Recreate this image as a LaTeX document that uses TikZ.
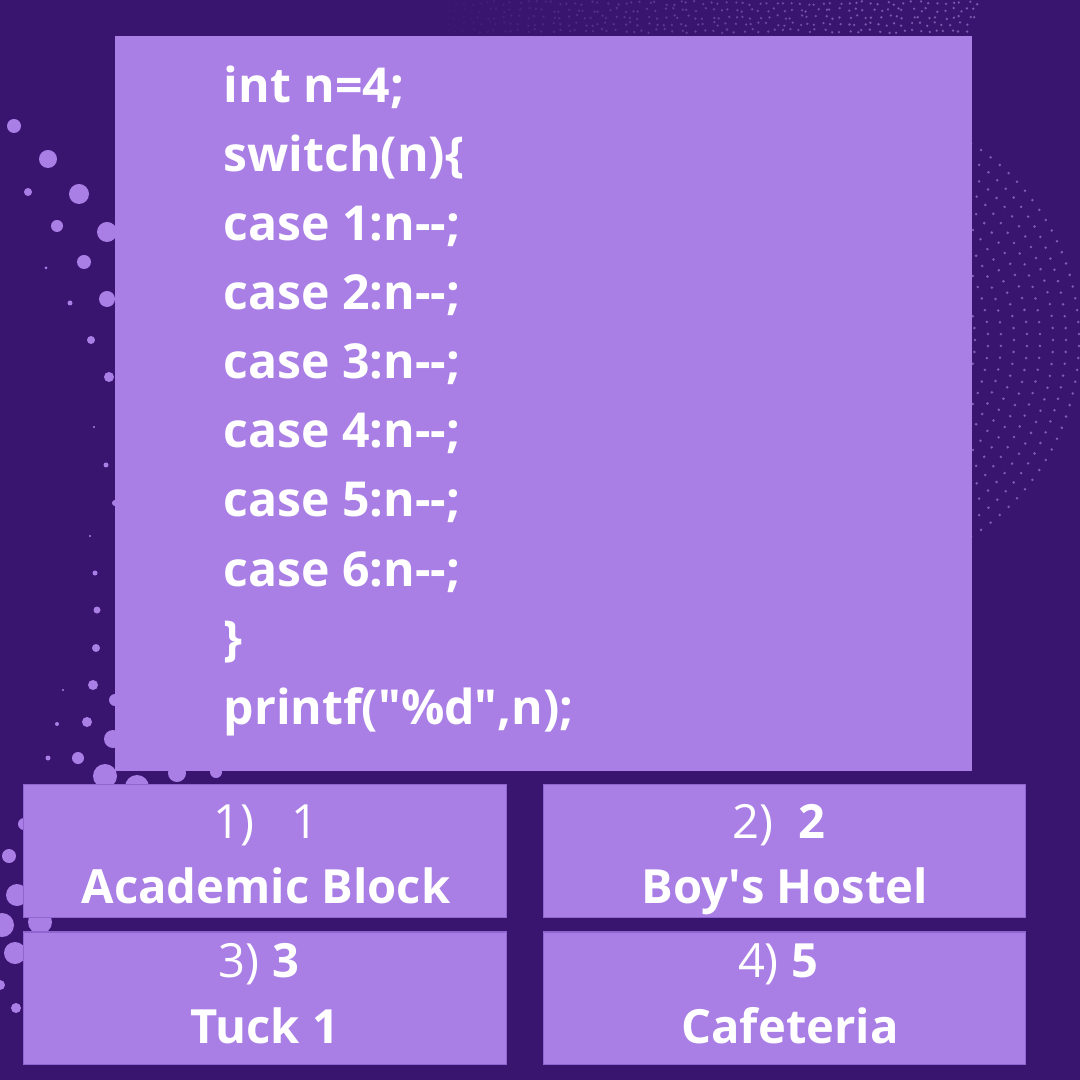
\documentclass[tikz,border=0pt]{standalone}
\usepackage{fontspec}
\setmainfont{Open Sans}
\usetikzlibrary{calc}

\definecolor{bgpurple}{HTML}{3A1570}
\definecolor{boxpurple}{HTML}{A97FE6}
\definecolor{boxedge}{HTML}{8F66D0}
\definecolor{dotpurple}{HTML}{7C5DB0}

\tikzset{
  bubble/.style={fill=boxpurple},
  globedot/.style={fill=dotpurple},
  codeline/.style={anchor=base west, inner sep=0pt, text=white,
    font=\fontsize{13.7}{16}\selectfont\bfseries},
  ansbox/.style={fill=boxpurple, draw=boxedge, line width=0.3pt, inner sep=0pt,
    minimum width=4.82cm, minimum height=1.32cm},
  anstext/.style={anchor=base, inner sep=0pt, text=white,
    font=\fontsize{13.4}{16}\selectfont}
}

\begin{document}
\begin{tikzpicture}[x=0.01cm,y=-0.01cm]
  \useasboundingbox (0,0) rectangle (1080,1080);
  \fill[bgpurple] (0,0) rectangle (1080,1080);
  % dotted globe on the right
  \foreach \r in {129,142,...,234} {
    \pgfmathtruncatemacro\N{round(3.1416*\r/12)}
    \foreach \k in {0,...,\N} {
      \pgfmathsetmacro\ang{-90+180*\k/\N}
      \fill[globedot, shift={(846,340)}] (\ang:\r) circle[radius=0.014cm];
    }
  }
  % dotted strip at the top
  \pgfmathsetseed{7}
  \foreach \i in {0,...,70} \foreach \j in {0,...,4} {
    \pgfmathsetmacro\px{440+8*\i+3*rand}
    \pgfmathsetmacro\py{3+7*\j+2*rand}
    \pgfmathsetmacro\op{(((\px-700)/100)^2+((\py+86)/100)^2<8.88) ? max(0,min(0.95,(\px-420)/480)) : 0}
    \fill[globedot, opacity=\op] (\px,\py) circle[radius=0.013cm];
  }
  % bubbles on the left
  \foreach \bx/\by/\br in {14/126/7,48/159/9,28/192/4,79/194/10,57/226/6,107/232/10,
      84/262/7,46/268/1.5,107/299/8,70/303/2.5,91/340/4,109/377/5,94/427/1.2,
      106/465/2.5,115/503/3,90/536/1.2,95/573/2.5,97/610/3.5,96/648/4,93/685/5,
      63/690/1.2,115/700/6,87/722/5,57/724/2,113/739/9,78/758/6,48/758/2.5,
      105/776/12,137/787/12,177/773/9,216/772/6,24/824/6,9/856/7,17/895/11,
      40/922/12,2/925/12,15/953/11,0/985/5,16/1008/5}
    \fill[bubble] (\bx,\by) circle[radius=\br*0.01cm];

  % code panel
  \fill[boxpurple] (115,36) rectangle (972,771);
  \foreach \ln [count=\i from 0] in {int n=4;, switch(n)\{, case 1:n-{}-;,
      case 2:n-{}-;, case 3:n-{}-;, case 4:n-{}-;, case 5:n-{}-;, case 6:n-{}-;,
      \}, {printf(\textquotedbl\%d\textquotedbl,n);}}
    \node[codeline] (code\i) at (223,{103+69*\i}) {\ln};

  % answers
  \node[ansbox] (a1) at (265,851) {};
  \node[ansbox] (a2) at (784.5,851) {};
  \node[ansbox] (a3) at (265,998) {};
  \node[ansbox] (a4) at (784.5,998) {};
  \node[anstext] (q1) at (266,838) {1)\ \ \ 1};
  \node[anstext, font=\fontsize{13.4}{16}\selectfont\bfseries] (n1) at (266,903) {Academic Block};
  \node[anstext] (q2) at (779,838) {2)\ \ \textbf{2}};
  \node[anstext, font=\fontsize{13.4}{16}\selectfont\bfseries] (n2) at (785,903) {Boy\textquotesingle s Hostel};
  \node[anstext] (q3) at (259,977) {3) \textbf{3}};
  \node[anstext, font=\fontsize{13.4}{16}\selectfont\bfseries] (n3) at (265,1043) {Tuck 1};
  \node[anstext] (q4) at (778,977) {4) \textbf{5}};
  \node[anstext, font=\fontsize{13.4}{16}\selectfont\bfseries] (n4) at (790,1043) {Cafeteria};
\end{tikzpicture}
\end{document}
